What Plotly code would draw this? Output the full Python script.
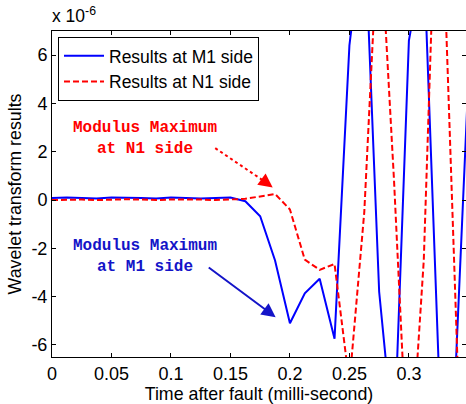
import plotly.graph_objects as go

# ---- data (values in units of 1e-6) ----
time_ms = [0.0, 0.0125, 0.025, 0.0375, 0.05, 0.0625, 0.075, 0.0875, 0.1, 0.1125,
           0.125, 0.1375, 0.15, 0.1625, 0.175, 0.1875, 0.2, 0.2125, 0.225, 0.2375,
           0.25, 0.2625, 0.275, 0.2875, 0.3, 0.3125, 0.325, 0.3375, 0.35]
m1_side = [0.08, 0.10, 0.08, 0.06, 0.10, 0.10, 0.08, 0.06, 0.10, 0.08,
           0.06, 0.08, 0.10, -0.05, -0.67, -2.50, -5.10, -3.86, -3.26, -5.74,
           6.4, 11.6, -3.8, -10.1, 6.6, 10.1, -6.8, -9.0, 5.0]
n1_side = [0.00, 0.02, 0.02, 0.00, 0.02, 0.03, 0.02, 0.00, 0.02, 0.03,
           0.02, 0.00, 0.02, 0.05, 0.15, 0.25, -0.39, -2.47, -2.89, -2.65,
           -7.6, -0.5, 12.0, 0.8, -12.0, -2.5, 16.4, -1.9, -20.0]

x_ticks = [0, 0.05, 0.1, 0.15, 0.2, 0.25, 0.3]
x_ticklabels = ["0", "0.05", "0.1", "0.15", "0.2", "0.25", "0.3"]
y_ticks = [-6, -4, -2, 0, 2, 4, 6]
y_ticklabels = ["-6", "-4", "-2", "0", "2", "4", "6"]

legend_names = ["Results at M1 side", "Results at N1 side"]
note_n1 = "Modulus Maximum<br>at N1 side"
note_m1 = "Modulus Maximum<br>at M1 side"

# annotation anchor points (data units)
n1_text_pos = (0.0785, 2.55)
n1_arrow_tail = (0.1372, 2.15)
n1_arrow_tip = (0.1855, 0.52)
m1_text_pos = (0.0785, -2.35)
m1_arrow_tail = (0.1305, -2.75)
m1_arrow_tip = (0.1880, -4.85)

RED = "#ff0000"
BLUE = "#0000ff"
DBLUE = "#1414c8"
SANS = "Liberation Sans, Arial"

fig = go.Figure()
fig.add_trace(go.Scatter(x=time_ms, y=m1_side, mode="lines", name=legend_names[0],
                         line=dict(color=BLUE, width=2)))
fig.add_trace(go.Scatter(x=time_ms, y=n1_side, mode="lines", name=legend_names[1],
                         line=dict(color=RED, width=2, dash="6px,3px")))

font_mono = dict(family="Liberation Mono, Courier New, monospace", size=16)

# text notes
fig.add_annotation(x=n1_text_pos[0], y=n1_text_pos[1], text="<b>" + note_n1 + "</b>",
                   showarrow=False, font=dict(color=RED, **font_mono), align="center")
fig.add_annotation(x=m1_text_pos[0], y=m1_text_pos[1], text="<b>" + note_m1 + "</b>",
                   showarrow=False, font=dict(color=DBLUE, **font_mono), align="center")

# red dotted arrow shaft + head
fig.add_shape(type="line", x0=n1_arrow_tail[0], y0=n1_arrow_tail[1],
              x1=n1_arrow_tip[0] - 0.006, y1=n1_arrow_tip[1] + 0.22,
              line=dict(color=RED, width=2, dash="3px,3px"))
fig.add_annotation(x=n1_arrow_tip[0], y=n1_arrow_tip[1], ax=n1_arrow_tip[0] - 0.009,
                   ay=n1_arrow_tip[1] + 0.33, axref="x", ayref="y", text="",
                   showarrow=True, arrowhead=2, arrowsize=1.4, arrowwidth=2,
                   arrowcolor=RED)
# blue solid arrow
fig.add_annotation(x=m1_arrow_tip[0], y=m1_arrow_tip[1], ax=m1_arrow_tail[0],
                   ay=m1_arrow_tail[1], axref="x", ayref="y", text="",
                   showarrow=True, arrowhead=2, arrowsize=1.4, arrowwidth=2,
                   arrowcolor=DBLUE)

# exponent label
fig.add_annotation(xref="paper", yref="paper", x=0.0, y=1.0, xanchor="left",
                   yanchor="bottom", yshift=3, xshift=-2, showarrow=False,
                   text="x 10<sup>-6</sup>",
                   font=dict(family=SANS, size=17.5, color="black"))

axis_common = dict(showline=True, linecolor="black", linewidth=1, mirror="ticks",
                   ticks="inside", ticklen=4, tickcolor="black", showgrid=False,
                   zeroline=False,
                   tickfont=dict(family=SANS, size=18, color="black"))

fig.update_xaxes(range=[0, 0.348], tickvals=x_ticks, ticktext=x_ticklabels,
                 title=dict(text="Time after fault (milli-second)", standoff=3,
                            font=dict(family=SANS, size=17.8, color="black")),
                 **axis_common)
fig.update_yaxes(range=[-6.5, 7], tickvals=y_ticks, ticktext=y_ticklabels,
                 title=dict(text="Wavelet transform results", standoff=5,
                            font=dict(family=SANS, size=17.8, color="black")),
                 **axis_common)

fig.update_layout(
    width=466, height=404,
    margin=dict(l=52, r=0, t=31, b=47),
    paper_bgcolor="white", plot_bgcolor="white",
    showlegend=True,
    legend=dict(x=0.0145, y=0.982, xanchor="left", yanchor="top",
                bgcolor="white", bordercolor="black", borderwidth=1,
                font=dict(family=SANS, size=17.5, color="black"),
                itemwidth=40, tracegroupgap=0),
)

fig.write_html("out.html")
